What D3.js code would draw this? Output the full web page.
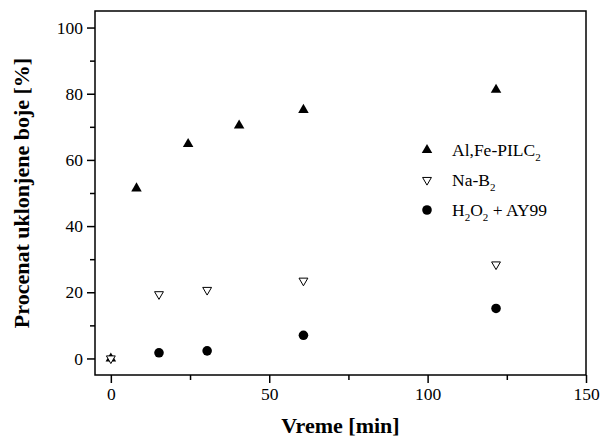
<!DOCTYPE html>
<meta charset="utf-8">
<style>
    body { margin: 0; background: #fff; }
    svg { display: block; font-family: "Liberation Serif", "Times New Roman", serif; }
    .axis path, .axis line { stroke: #000; stroke-width: 1.5px; }
    .axis text { font-family: "Liberation Serif", "Times New Roman", serif; font-size: 17.5px; fill: #000; }
    .titulo { font-size: 22px; font-weight: bold; }
    .legenda { font-size: 17.5px; }
</style>
<script src="https://cdn.jsdelivr.net/npm/d3@7"></script>
<svg width="609" height="439"></svg>
<script>
    // dados
    var tempoPilc = [0, 8.1, 24.4, 40.5, 60.8, 121.6];
    var valPilc = [0, 51.4, 64.8, 70.4, 75.1, 81.2];
    var tempoNaB = [0, 15.2, 30.4, 60.8, 121.6];
    var valNaB = [0, 19.4, 20.7, 23.5, 28.4];
    var tempoH2O2 = [15.2, 30.4, 60.8, 121.6];
    var valH2O2 = [1.7, 2.3, 7.0, 15.1];

    var xMaior = [0, 50, 100, 150], xMenor = [25, 75, 125];
    var yMaior = [0, 20, 40, 60, 80, 100], yMenor = [10, 30, 50, 70, 90];

    var svg = d3.select("svg");
    var esq = 95, dir = 586, topo = 11, base = 375;

    var x = d3.scaleLinear().domain([-5, 150]).range([esq, dir]);
    var y = d3.scaleLinear().domain([-5, 105]).range([base, topo]);

    // eixos (maiores e menores)
    svg.append("g").attr("class", "axis").attr("transform", "translate(0," + base + ")")
        .call(d3.axisBottom(x).tickValues(xMenor).tickSize(5).tickFormat(""))
        .select(".domain").remove();
    svg.append("g").attr("class", "axis").attr("transform", "translate(0," + base + ")")
        .call(d3.axisBottom(x).tickValues(xMaior).tickSize(8).tickSizeOuter(0).tickPadding(5))
        .select(".domain").remove();
    svg.append("g").attr("class", "axis").attr("transform", "translate(" + esq + ",0)")
        .call(d3.axisLeft(y).tickValues(yMenor).tickSize(5).tickFormat(""))
        .select(".domain").remove();
    svg.append("g").attr("class", "axis").attr("transform", "translate(" + esq + ",0)")
        .call(d3.axisLeft(y).tickValues(yMaior).tickSize(8).tickPadding(4))
        .select(".domain").remove();
    svg.selectAll(".axis").attr("font-family", null).attr("font-size", null);

    svg.append("rect")
        .attr("x", esq).attr("y", topo)
        .attr("width", dir - esq).attr("height", base - topo)
        .attr("fill", "none").attr("stroke", "#000").attr("stroke-width", 1.5);

    // titulos
    svg.append("text").attr("class", "titulo")
        .attr("x", (esq + dir) / 2).attr("y", 433)
        .attr("text-anchor", "middle").text("Vreme [min]");
    svg.append("text").attr("class", "titulo")
        .attr("transform", "translate(29," + (topo + base) / 2 + ") rotate(-90)")
        .attr("text-anchor", "middle").text("Procenat uklonjene boje [%]");

    var triCima = d3.symbol().type(d3.symbolTriangle).size(48);
    var triBaixo = d3.symbol().type(d3.symbolTriangle).size(34);
    var circulo = d3.symbol().type(d3.symbolCircle).size(72);

    svg.append("g").selectAll("path")
        .data(d3.zip(tempoH2O2, valH2O2))
        .enter().append("path")
        .attr("transform", function (d) { return "translate(" + x(d[0]) + "," + y(d[1]) + ")"; })
        .attr("d", circulo).attr("fill", "#000");

    svg.append("g").selectAll("path")
        .data(d3.zip(tempoPilc, valPilc))
        .enter().append("path")
        .attr("transform", function (d) { return "translate(" + x(d[0]) + "," + y(d[1]) + ")"; })
        .attr("d", triCima).attr("fill", "#000");

    svg.append("g").selectAll("path")
        .data(d3.zip(tempoNaB, valNaB))
        .enter().append("path")
        .attr("transform", function (d) { return "translate(" + x(d[0]) + "," + y(d[1]) + ") rotate(180)"; })
        .attr("d", triBaixo).attr("fill", "#fff").attr("stroke", "#000").attr("stroke-width", 1);

    // legenda
    var legenda = [
        { simbolo: triCima, fill: "#000", rot: 0, partes: [["Al,Fe-PILC", 0], ["2", 1]] },
        { simbolo: triBaixo, fill: "#fff", rot: 180, partes: [["Na-B", 0], ["2", 1]] },
        { simbolo: circulo, fill: "#000", rot: 0, partes: [["H", 0], ["2", 1], ["O", 0], ["2", 1], [" + AY99", 0]] }
    ];
    var leg = svg.append("g").selectAll("g").data(legenda).enter().append("g")
        .attr("transform", function (d, i) { return "translate(427," + (150 + i * 30) + ")"; });
    leg.append("path")
        .attr("d", function (d) { return d.simbolo(); })
        .attr("transform", function (d) { return "rotate(" + d.rot + ")"; })
        .attr("fill", function (d) { return d.fill; })
        .attr("stroke", function (d) { return d.rot ? "#000" : "none"; });
    leg.append("text").attr("class", "legenda")
        .attr("x", 25).attr("y", 6)
        .selectAll("tspan").data(function (d) { return d.partes; })
        .enter().append("tspan")
        .attr("font-size", function (p) { return p[1] ? "11px" : null; })
        .attr("dy", function (p, i, nos) {
            var ant = i > 0 ? d3.select(nos[i - 1]).datum()[1] : 0;
            return (p[1] - ant) * 5;
        })
        .text(function (p) { return p[0]; });
</script>
